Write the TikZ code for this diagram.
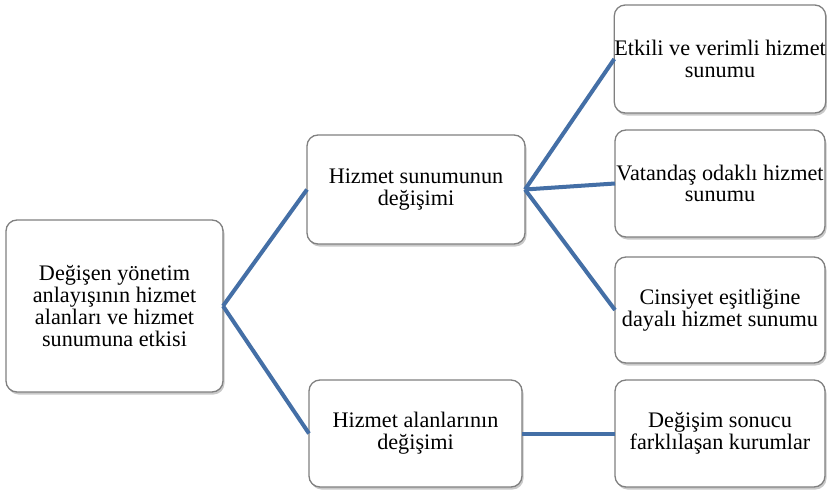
\documentclass[tikz,border=0pt]{standalone}
\usepackage{fontspec}
\setmainfont{Liberation Serif}
\usetikzlibrary{shadows}
\definecolor{linkblue}{RGB}{68,111,166}
\definecolor{boxborder}{RGB}{128,128,128}
\begin{document}
\begin{tikzpicture}[x=1pt,y=-1pt,
  box/.style={draw=boxborder, line width=1.3pt, rounded corners=11pt, fill=white,
    align=center, inner sep=0pt, outer sep=0pt,
    font=\fontsize{22.2}{21.7}\selectfont,
    drop shadow={shadow xshift=1.5pt, shadow yshift=-2.5pt, opacity=0.35, fill=black!60}},
  link/.style={draw=linkblue, line width=4pt}]
\useasboundingbox[fill=white] (0,0) rectangle (827,490);
\node[box, minimum width=217pt, minimum height=172pt] (root) at (114.5,306)
  {Değişen yönetim\\anlayışının hizmet\\alanları ve hizmet\\sunumuna etkisi};
\node[box, minimum width=218pt, minimum height=109pt] (mid1) at (416,189.5)
  {Hizmet sunumunun\\değişimi};
\node[box, minimum width=213pt, minimum height=107pt] (mid2) at (415.5,433.5)
  {Hizmet alanlarının\\değişimi};
\node[box, minimum width=210pt, minimum height=108pt] (r1) at (720,59)
  {Etkili ve verimli hizmet\\sunumu};
\node[box, minimum width=210pt, minimum height=107pt] (r2) at (720,183.5)
  {Vatandaş odaklı hizmet\\sunumu};
\node[box, minimum width=210pt, minimum height=106pt] (r3) at (720,310)
  {Cinsiyet eşitliğine\\dayalı hizmet sunumu};
\node[box, minimum width=210pt, minimum height=107pt] (r4) at (720,433.5)
  {Değişim sonucu\\farklılaşan kurumlar};
\draw[link] (root.east) -- (mid1.west);
\draw[link] (root.east) -- (mid2.west);
\draw[link] (mid1.east) -- (r1.west);
\draw[link] (mid1.east) -- (r2.west);
\draw[link] (mid1.east) -- (r3.west);
\draw[link] (mid2.east) -- (r4.west);
\end{tikzpicture}
\end{document}
